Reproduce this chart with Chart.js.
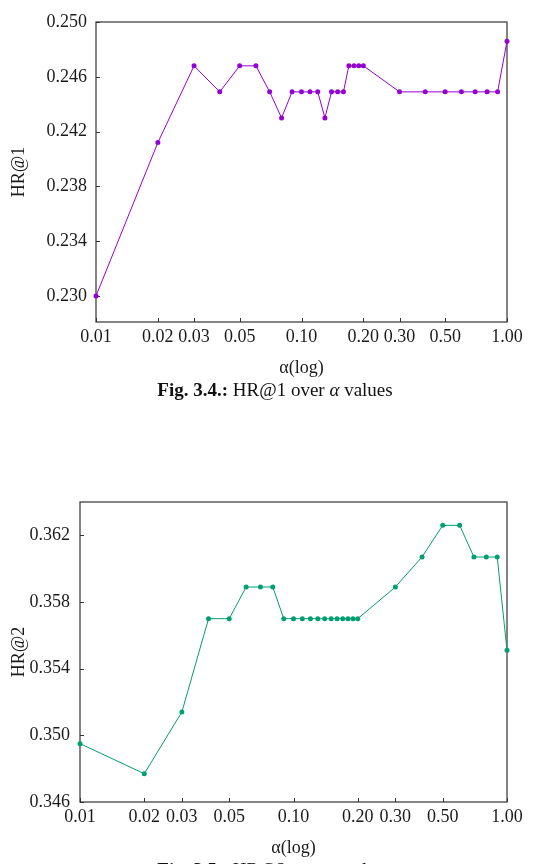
<!DOCTYPE html>
<html>
<head>
<meta charset="utf-8">
<script src="https://cdn.jsdelivr.net/npm/chart.js@4.4.1/dist/chart.umd.min.js"></script>
<style>
    html, body { margin: 0; padding: 0; background: #fff; overflow: hidden; }
    body { width: 534px; height: 864px; position: relative; font-family: 'Liberation Serif', serif; color: #111; }
    .wrap { position: absolute; left: 0; width: 534px; }
    #wrap1 { top: 0; height: 380px; }
    #wrap2 { top: 460px; height: 404px; }
    .caption { position: absolute; left: 0; width: 550px; text-align: center; font-size: 19px; line-height: 20px; white-space: nowrap; }
</style>
</head>
<body>
<div class="wrap" id="wrap1"><canvas id="hr1"></canvas></div>
<div class="caption" style="top: 380px;"><b>Fig. 3.4.:</b> HR@1 over <i>α</i> values</div>
<div class="wrap" id="wrap2"><canvas id="hr2"></canvas></div>
<div class="caption" style="top: 860px;"><b>Fig. 3.5.:</b> HR@2 over <i>α</i> values</div>
<script>
// alpha values (log x axis)
const alphas = [0.01, 0.02, 0.03, 0.04, 0.05, 0.06, 0.07, 0.08, 0.09, 0.10,
    0.11, 0.12, 0.13, 0.14, 0.15, 0.16, 0.17, 0.18, 0.19, 0.20,
    0.30, 0.40, 0.50, 0.60, 0.70, 0.80, 0.90, 1.00];

const hr1Values = [0.2300, 0.2412, 0.2468, 0.2449, 0.2468, 0.2468, 0.2449, 0.2430, 0.2449, 0.2449,
    0.2449, 0.2449, 0.2430, 0.2449, 0.2449, 0.2449, 0.2468, 0.2468, 0.2468, 0.2468,
    0.2449, 0.2449, 0.2449, 0.2449, 0.2449, 0.2449, 0.2449, 0.2486];

const hr2Values = [0.3495, 0.3477, 0.3514, 0.3570, 0.3570, 0.3589, 0.3589, 0.3589, 0.3570, 0.3570,
    0.3570, 0.3570, 0.3570, 0.3570, 0.3570, 0.3570, 0.3570, 0.3570, 0.3570, 0.3570,
    0.3589, 0.3607, 0.3626, 0.3626, 0.3607, 0.3607, 0.3607, 0.3551];

const xTicks = [0.01, 0.02, 0.03, 0.05, 0.10, 0.20, 0.30, 0.50, 1.00];
const hr1Ticks = [0.230, 0.234, 0.238, 0.242, 0.246, 0.250];
const hr2Ticks = [0.346, 0.350, 0.354, 0.358, 0.362];

const FONT = {family: "'Liberation Serif', serif", size: 18};
const INK = '#1a1a1a';

// box around the plot area plus short inward tick marks
const frameAndTicks = {
    id: 'frameAndTicks',
    beforeDatasetsDraw(chart) {
        const {ctx, chartArea: a, scales} = chart;

        ctx.save();
        ctx.strokeStyle = '#333';
        ctx.lineWidth = 1;
        ctx.beginPath();
        for (const t of scales.x.ticks) {
            const px = Math.round(scales.x.getPixelForValue(t.value)) + 0.5;
            ctx.moveTo(px, a.bottom);
            ctx.lineTo(px, a.bottom - 4);
        }
        for (const t of scales.y.ticks) {
            const py = Math.round(scales.y.getPixelForValue(t.value)) + 0.5;
            ctx.moveTo(a.left, py);
            ctx.lineTo(a.left + 4, py);
        }
        ctx.stroke();
        ctx.lineWidth = 1.2;
        ctx.strokeRect(a.left, a.top, a.right - a.left, a.bottom - a.top);
        ctx.restore();
    }
};

function makeChart(id, opts) {
    return new Chart(document.getElementById(id), {
        type: 'line',
        data: {
            datasets: [{
                data: alphas.map((a, i) => ({x: a, y: opts.values[i]})),
                borderColor: opts.color,
                backgroundColor: opts.color,
                borderWidth: 1,
                pointRadius: 2.5,
                pointBorderWidth: 0,
                tension: 0,
                clip: false
            }]
        },
        options: {
            responsive: true,
            maintainAspectRatio: false,
            animation: false,
            events: [],
            layout: {
                padding: {top: opts.padTop, right: 27, bottom: 0, left: 0}
            },
            plugins: {
                legend: {display: false},
                tooltip: {enabled: false}
            },
            scales: {
                x: {
                    type: 'logarithmic',
                    min: 0.01,
                    max: 1,
                    afterBuildTicks: scale => {
                        scale.ticks = xTicks.map(v => ({value: v}));
                    },
                    afterFit: scale => {
                        scale.height = opts.xHeight;
                    },
                    ticks: {
                        autoSkip: false,
                        maxRotation: 0,
                        padding: 4,
                        color: INK,
                        font: FONT,
                        callback: v => Number(v).toFixed(2)
                    },
                    grid: {display: false, drawTicks: false},
                    border: {display: false},
                    title: {
                        display: true,
                        text: 'α(log)',
                        color: INK,
                        font: FONT,
                        padding: {top: 0, bottom: opts.xTitlePad}
                    }
                },
                y: {
                    type: 'linear',
                    min: opts.yMin,
                    max: opts.yMax,
                    afterBuildTicks: scale => {
                        scale.ticks = opts.yTicks.map(v => ({value: v}));
                    },
                    afterFit: scale => {
                        scale.width = opts.yWidth;
                    },
                    ticks: {
                        padding: opts.yLabelPad,
                        color: INK,
                        font: FONT,
                        callback: v => Number(v).toFixed(3)
                    },
                    grid: {display: false, drawTicks: false},
                    border: {display: false},
                    title: {
                        display: true,
                        text: opts.yTitle,
                        color: INK,
                        font: FONT,
                        padding: {top: 8, bottom: 0}
                    }
                }
            }
        },
        plugins: [frameAndTicks]
    });
}

makeChart('hr1', {
    values: hr1Values,
    color: '#9400d3',
    yTitle: 'HR@1',
    yTicks: hr1Ticks,
    yMin: 0.2281,
    yMax: 0.250,
    padTop: 22,
    xHeight: 58,
    yWidth: 96,
    yLabelPad: 9,
    xTitlePad: 1
});

makeChart('hr2', {
    values: hr2Values,
    color: '#009e73',
    yTitle: 'HR@2',
    yTicks: hr2Ticks,
    yMin: 0.346,
    yMax: 0.364,
    padTop: 42,
    xHeight: 62,
    yWidth: 80,
    yLabelPad: 10,
    xTitlePad: 5
});
</script>
</body>
</html>
